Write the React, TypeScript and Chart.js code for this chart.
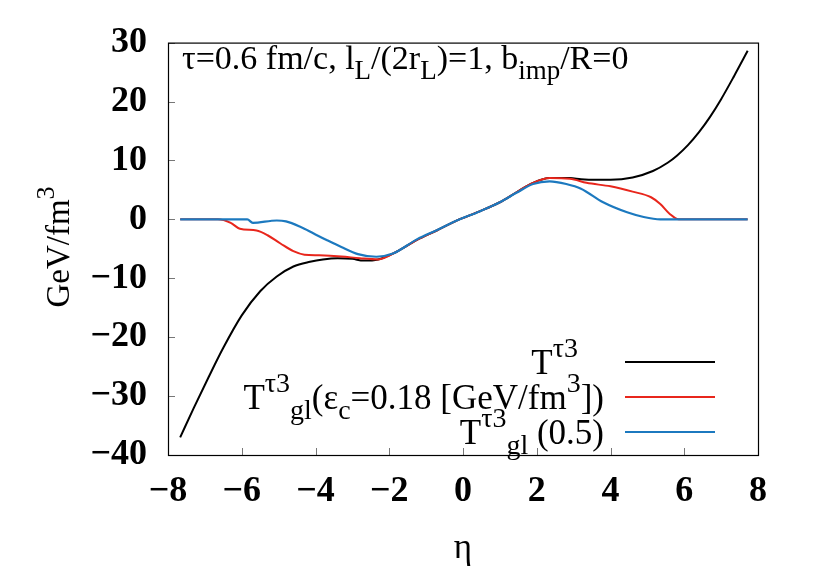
import React, { useEffect, useRef } from "react";
import { Chart, registerables } from "chart.js";

Chart.register(...registerables);

// ---- data ----
const etaBlack = [-7.67, -7.3, -6.9, -6.5, -6.0, -5.5, -5.05, -4.6, -4.15, -3.8, -3.4, -3.0, -2.7, -2.3, -1.8, -1.25, -0.7, -0.2, 0.45, 1.0, 1.45, 1.9, 2.35, 2.9, 3.2, 3.6, 4.0, 4.6, 5.15, 5.55, 5.8, 6.1, 6.4, 6.7, 7.0, 7.35, 7.72];
const tBlack = [-37.0, -32.0, -26.8, -21.8, -16.3, -12.2, -9.7, -8.0, -7.2, -6.8, -6.6, -6.7, -7.0, -6.8, -5.5, -3.5, -1.85, -0.3, 1.35, 2.9, 4.6, 6.2, 7.0, 7.0, 6.8, 6.7, 6.7, 7.1, 8.2, 9.6, 10.8, 12.6, 14.8, 17.4, 20.4, 24.3, 28.6];

const etaRed = [-7.67, -6.65, -6.3, -6.05, -5.6, -5.3, -4.95, -4.6, -4.3, -3.9, -3.3, -2.8, -2.3, -1.8, -1.25, -0.7, -0.2, 0.45, 1.0, 1.45, 1.9, 2.35, 2.9, 3.35, 4.0, 4.6, 5.1, 5.35, 5.6, 5.85, 7.72];
const tRed = [0, 0, -0.6, -1.6, -1.9, -2.7, -4.1, -5.4, -6.0, -6.1, -6.3, -6.6, -6.8, -5.5, -3.5, -1.85, -0.3, 1.35, 2.9, 4.6, 6.2, 7.0, 6.9, 6.2, 5.6, 4.7, 3.75, 2.6, 0.95, 0, 0];

const etaBlue = [-7.67, -5.85, -5.7, -5.05, -4.8, -4.4, -4.05, -3.7, -3.3, -2.85, -2.35, -1.9, -1.25, -0.7, -0.2, 0.45, 1.0, 1.45, 1.9, 2.35, 2.8, 3.2, 3.8, 4.45, 4.9, 5.35, 7.72];
const tBlue = [0, 0, -0.6, -0.2, -0.35, -1.3, -2.4, -3.5, -4.7, -5.9, -6.35, -5.8, -3.4, -1.8, -0.3, 1.35, 2.9, 4.5, 6.0, 6.45, 6.0, 5.2, 2.9, 1.2, 0.4, 0, 0];

const xTicks = [-8, -6, -4, -2, 0, 2, 4, 6, 8];
const yTicks = [-40, -30, -20, -10, 0, 10, 20, 30];

const SERIF = '"Liberation Serif", "DejaVu Serif", serif';
const BLACK = "#000000";
const RED = "#e8261c";
const BLUE = "#1c79bf";

type Seg = { t: string; s?: number; dy?: number };

function drawRich(ctx: CanvasRenderingContext2D, segs: Seg[], x: number, y: number, align: "left" | "right" | "center", base = 35) {
  const widths = segs.map((sg) => {
    ctx.font = `${sg.s ?? base}px ${SERIF}`;
    return ctx.measureText(sg.t).width;
  });
  const total = widths.reduce((a, b) => a + b, 0);
  let cx = align === "left" ? x : align === "right" ? x - total : x - total / 2;
  ctx.textAlign = "left";
  ctx.textBaseline = "alphabetic";
  segs.forEach((sg, i) => {
    ctx.font = `${sg.s ?? base}px ${SERIF}`;
    ctx.fillText(sg.t, cx, y + (sg.dy ?? 0));
    cx += widths[i];
  });
}

const SUP = 28;

const decor = {
  id: "decor",
  afterDraw(chart: any) {
    const ctx: CanvasRenderingContext2D = chart.ctx;
    const { left, right, top, bottom } = chart.chartArea;
    const xs = chart.scales.x;
    const ys = chart.scales.y;
    ctx.save();
    // inner ticks
    ctx.strokeStyle = "#777";
    ctx.lineWidth = 1;
    xTicks.forEach((v) => {
      const px = Math.round(xs.getPixelForValue(v)) + 0.5;
      ctx.beginPath();
      ctx.moveTo(px, bottom);
      ctx.lineTo(px, bottom - 7);
      ctx.stroke();
    });
    yTicks.forEach((v) => {
      const py = Math.round(ys.getPixelForValue(v)) + 0.5;
      ctx.beginPath();
      ctx.moveTo(left, py);
      ctx.lineTo(left + 7, py);
      ctx.stroke();
    });
    // frame
    ctx.strokeStyle = "#000";
    ctx.lineWidth = 1.2;
    ctx.strokeRect(left + 0.5, top + 0.5, right - left, bottom - top);

    ctx.fillStyle = "#000";
    // annotation
    drawRich(ctx, [
      { t: "τ=0.6 fm/c, l" },
      { t: "L", s: 27, dy: 10 },
      { t: "/(2r" },
      { t: "L", s: 27, dy: 10 },
      { t: ")=1, b" },
      { t: "imp", s: 27, dy: 10 },
      { t: "/R=0" },
    ], left + 14, top + 26, "left", 34);

    // legend
    const legendRows = [
      { y: 362, color: BLACK, right: 578, segs: [{ t: "T" }, { t: "τ3", s: SUP, dy: -17 }] as Seg[] },
      { y: 397, color: RED, right: 604, segs: [{ t: "T" }, { t: "τ3", s: SUP, dy: -17 }, { t: "gl", s: SUP, dy: 10 }, { t: "(ε" }, { t: "c", s: SUP, dy: 10 }, { t: "=0.18 [GeV/fm" }, { t: "3", s: SUP, dy: -17 }, { t: "])" }] as Seg[] },
      { y: 432, color: BLUE, right: 604, segs: [{ t: "T" }, { t: "τ3", s: SUP, dy: -17 }, { t: "gl", s: SUP, dy: 10 }, { t: " (0.5)" }] as Seg[] },
    ];
    legendRows.forEach((r) => {
      ctx.fillStyle = "#000";
      drawRich(ctx, r.segs, r.right, r.y + 12, "right");
      ctx.strokeStyle = r.color;
      ctx.lineWidth = 2;
      ctx.beginPath();
      ctx.moveTo(625, r.y);
      ctx.lineTo(715, r.y);
      ctx.stroke();
    });

    // x title
    ctx.fillStyle = "#000";
    drawRich(ctx, [{ t: "η" }], (left + right) / 2, 558, "center");

    // y title
    ctx.save();
    ctx.translate(69, 247);
    ctx.rotate(-Math.PI / 2);
    drawRich(ctx, [{ t: "GeV/fm", s: 33 }, { t: "3", s: 26, dy: -15 }], 0, 0, "center", 33);
    ctx.restore();

    ctx.restore();
  },
};

export default function App() {
  const ref = useRef<HTMLCanvasElement | null>(null);
  useEffect(() => {
    if (!ref.current) return;
    const mk = (xs: number[], ys: number[]) => xs.map((x, i) => ({ x, y: ys[i] }));
    const chart = new Chart(ref.current, {
      type: "scatter",
      data: {
        datasets: [
          { label: "blue", data: mk(etaBlue, tBlue), borderColor: BLUE, borderWidth: 2.2, showLine: true, pointRadius: 0, cubicInterpolationMode: "monotone", order: 0 },
          { label: "red", data: mk(etaRed, tRed), borderColor: RED, borderWidth: 2, showLine: true, pointRadius: 0, cubicInterpolationMode: "monotone", order: 1 },
          { label: "black", data: mk(etaBlack, tBlack), borderColor: BLACK, borderWidth: 2, showLine: true, pointRadius: 0, cubicInterpolationMode: "monotone", order: 2 },
        ] as any,
      },
      options: {
        animation: false,
        responsive: false,
        maintainAspectRatio: false,
        layout: { padding: { top: 39, right: 72, left: 0, bottom: 0 } },
        plugins: { legend: { display: false }, tooltip: { enabled: false } },
        scales: {
          x: {
            type: "linear",
            min: -8,
            max: 8,
            afterBuildTicks: (s: any) => { s.ticks = xTicks.map((v) => ({ value: v })); },
            afterFit: (s: any) => { s.height = 126; },
            grid: { display: false, drawTicks: false },
            border: { display: false },
            ticks: {
              padding: 15,
              color: "#000",
              font: { family: SERIF, size: 36, weight: "bold" },
              callback: (v: any) => String(v).replace("-", "−"),
            },
          },
          y: {
            type: "linear",
            min: -40,
            max: 30,
            afterBuildTicks: (s: any) => { s.ticks = yTicks.map((v) => ({ value: v })); },
            afterFit: (s: any) => { s.width = 168; },
            grid: { display: false, drawTicks: false },
            border: { display: false },
            ticks: {
              padding: 21,
              color: "#000",
              font: { family: SERIF, size: 36, weight: "bold" },
              callback: (v: any) => String(v).replace("-", "−"),
            },
          },
        },
      } as any,
      plugins: [decor],
    });
    return () => chart.destroy();
  }, []);
  return (
    <div style={{ position: "absolute", left: 0, top: 0, width: 830, height: 581, background: "#fff" }}>
      <canvas ref={ref} width={830} height={581} style={{ width: 830, height: 581, display: "block" }} />
    </div>
  );
}
